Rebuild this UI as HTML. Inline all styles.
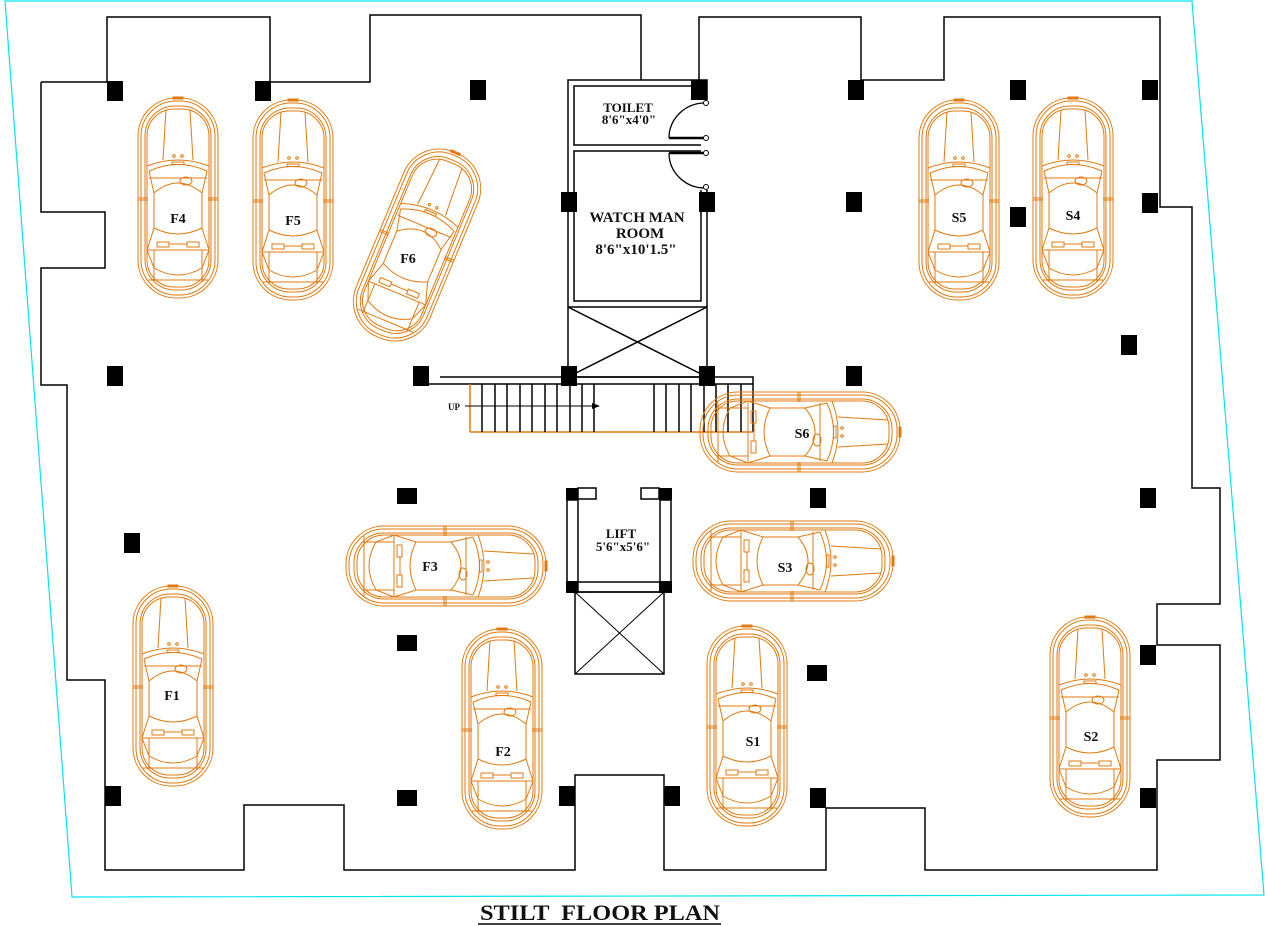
<!DOCTYPE html>
<html><head><meta charset="utf-8"><style>
html,body{margin:0;padding:0;background:#fff}
svg{display:block}
.t{font-family:"Liberation Serif",serif;font-weight:bold;fill:#111}
</style></head><body>
<svg width="1265" height="926" viewBox="0 0 1265 926" xmlns="http://www.w3.org/2000/svg">
<defs>
<g id="car" fill="none" stroke="#e07a10" stroke-width="1">
<rect x="-40" y="-100" width="80" height="200" rx="38"/>
<rect x="-37" y="-97" width="74" height="194" rx="35"/>
<rect x="-33" y="-92" width="66" height="184" rx="30"/>
<rect x="-31" y="-89" width="62" height="178" rx="27"/>
<rect x="-5" y="-101" width="10" height="2" fill="#e07a10"/>
<path d="M-12,-88 L-15,-38 M12,-88 L15,-38"/>
<path d="M-31,-32 Q0,-44 31,-32 M-29,-27 Q0,-40 29,-27"/>
<circle cx="-4" cy="-42" r="1.3"/><circle cx="4" cy="-42" r="1.3"/>
<rect x="-6" y="-36" width="12" height="2.5"/>
<path d="M-29,-27 L-24,-5 L-24,30 L-31,52 M29,-27 L24,-5 L24,30 L31,52"/>
<path d="M-24,-5 Q0,-25 24,-5 M-24,30 Q0,42 24,30"/>
<path d="M-29,-20 L29,-20"/>
<ellipse cx="8" cy="-17" rx="6" ry="4"/>
<path d="M-40,0 L-30,0 M30,0 L40,0 M-40,2 L-30,2 M30,2 L40,2"/>
<path d="M-31,52 L31,52"/>
<rect x="-21" y="44" width="12" height="5"/><rect x="9" y="44" width="12" height="5"/>
<path d="M-9,46 L9,46"/>
<path d="M-24,52 L-24,84 M24,52 L24,84 M-31,52 L-24,70 Q0,84 24,70 L31,52 M-30,82 L30,82"/>
</g>
</defs>
<polygon points="5,1 1192,1 1264,895 72,897" fill="none" stroke="#00e5f0" stroke-width="1.2"/>
<polyline fill="none" stroke="#000" stroke-width="1.5" points="41,82 107,82 107,17 270,17 270,82 370,82 370,15 641,15 641,80"/>
<polyline fill="none" stroke="#000" stroke-width="1.5" points="699,80 699,17 861,17 861,80 944,80 944,17 1160,17 1160,207 1192,207 1192,488 1220,488 1220,604 1157,604 1157,645 1220,645 1220,760 1157,760 1157,870 925,870 925,808 826,808 826,870 664,870 664,775 575,775 575,870 344,870 344,805 244,805 244,870 105,870 105,680 67,680 67,385 41,385 41,268 105,268 105,212 41,212 41,82"/>
<g fill="none" stroke="#000" stroke-width="1.5">
<path d="M707,100 L707,80 L568,80 L568,377 L707,377 L707,190"/>
<path d="M701,100 L701,86 L574,86 L574,145 L701,145 M701,151 L574,151 L574,301 L701,301 L701,190"/>
<path d="M568,307 L707,307 M568,307 L707,377 M707,307 L568,377"/>
<path d="M705,103 A36,35 0 0 0 669,138 M669,153 A36,35 0 0 0 705,188" stroke-width="1.3"/>
<path d="M669,138 L706,138 M669,153 L706,153" stroke-width="2.5"/>
<path d="M440,377 L753,377 L753,432 M413,384 L753,384"/>
<path d="M470,384 L470,432 M470,432 L753,432" stroke="#e07a10"/>
<path d="M482,384V432 M495,384V432 M507,384V432 M520,384V432 M532,384V432 M545,384V432 M557,384V432 M570,384V432 M582,384V432 M594,384V432 M654,384V432 M666,384V432 M679,384V432 M691,384V432 M704,384V432 M716,384V432 M728,384V432 M741,384V432"/>
<path d="M465,406 L598,406" stroke-width="1"/>
<rect x="578" y="488" width="18" height="11"/><rect x="641" y="488" width="18" height="11"/>
<rect x="567" y="500" width="11" height="82"/><rect x="660" y="500" width="11" height="82"/>
<rect x="578" y="582" width="82" height="10"/>
<rect x="575" y="592" width="89" height="82"/>
<path d="M575,592 L664,674 M664,592 L575,674" stroke-width="1"/>
</g>
<g fill="none" stroke="#000" stroke-width="1">
<circle cx="706" cy="103" r="2.5" fill="#fff"/><circle cx="706" cy="138" r="2.5" fill="#fff"/><circle cx="706" cy="153" r="2.5" fill="#fff"/><circle cx="706" cy="187" r="2.5" fill="#fff"/>
</g>
<path d="M592,403 L600,406 L592,409Z" fill="#000"/>
<g fill="#000">
<rect x="107" y="81" width="16" height="20"/><rect x="255" y="81" width="16" height="20"/><rect x="470" y="80" width="16" height="20"/><rect x="691" y="80" width="16" height="20"/><rect x="848" y="80" width="16" height="20"/><rect x="1010" y="80" width="16" height="20"/><rect x="1142" y="80" width="16" height="20"/>
<rect x="561" y="192" width="16" height="20"/><rect x="699" y="192" width="16" height="20"/><rect x="846" y="192" width="16" height="20"/><rect x="1010" y="207" width="16" height="20"/><rect x="1142" y="193" width="16" height="20"/><rect x="1121" y="335" width="16" height="20"/>
<rect x="107" y="366" width="16" height="20"/><rect x="413" y="366" width="16" height="20"/><rect x="561" y="366" width="16" height="20"/><rect x="699" y="366" width="16" height="20"/><rect x="846" y="366" width="16" height="20"/>
<rect x="397" y="488" width="20" height="16"/><rect x="810" y="488" width="16" height="20"/><rect x="1140" y="488" width="16" height="20"/><rect x="124" y="533" width="16" height="20"/>
<rect x="566" y="488" width="12" height="12"/><rect x="659" y="488" width="13" height="12"/><rect x="566" y="581" width="12" height="12"/><rect x="659" y="581" width="13" height="12"/>
<rect x="397" y="635" width="20" height="16"/><rect x="807" y="665" width="20" height="16"/><rect x="1140" y="645" width="16" height="20"/>
<rect x="105" y="786" width="16" height="20"/><rect x="397" y="790" width="20" height="16"/><rect x="559" y="786" width="16" height="20"/><rect x="664" y="786" width="16" height="20"/><rect x="810" y="788" width="16" height="20"/><rect x="1140" y="788" width="16" height="20"/>
</g>
<use href="#car" transform="translate(178,198)"/>
<use href="#car" transform="translate(293,200)"/>
<use href="#car" transform="translate(417,245) rotate(22.6)"/>
<use href="#car" transform="translate(959,200)"/>
<use href="#car" transform="translate(1073,198)"/>
<use href="#car" transform="translate(173,686)"/>
<use href="#car" transform="translate(502,729)"/>
<use href="#car" transform="translate(747,726)"/>
<use href="#car" transform="translate(1090,717)"/>
<use href="#car" transform="translate(800,432) rotate(90)"/>
<use href="#car" transform="translate(446,566) rotate(90)"/>
<use href="#car" transform="translate(793,561) rotate(90)"/>
<g class="t" font-size="14" text-anchor="middle">
<text x="178" y="223">F4</text><text x="293" y="225">F5</text><text x="408" y="263">F6</text>
<text x="959" y="222">S5</text><text x="1073" y="220">S4</text>
<text x="172" y="700">F1</text><text x="503" y="756">F2</text><text x="753" y="746">S1</text><text x="1091" y="741">S2</text>
<text x="802" y="438">S6</text><text x="430" y="571">F3</text><text x="785" y="572">S3</text>
</g>
<g class="t" font-size="13" text-anchor="middle">
<text x="628" y="112">TOILET</text><text x="629" y="124">8'6"x4'0"</text>
<text x="637" y="222" font-size="15">WATCH MAN</text><text x="640" y="238" font-size="15">ROOM</text><text x="636" y="254" font-size="15">8'6"x10'1.5"</text>
<text x="621" y="538">LIFT</text><text x="623" y="551">5'6"x5'6"</text>
</g>
<text x="448" y="410" class="t" font-size="9">UP</text>
<text x="480" y="920" class="t" font-size="22" textLength="240" lengthAdjust="spacingAndGlyphs" xml:space="preserve">STILT  FLOOR PLAN</text>
<line x1="478" y1="924" x2="721" y2="924" stroke="#000" stroke-width="1.5"/>
</svg>
</body></html>
